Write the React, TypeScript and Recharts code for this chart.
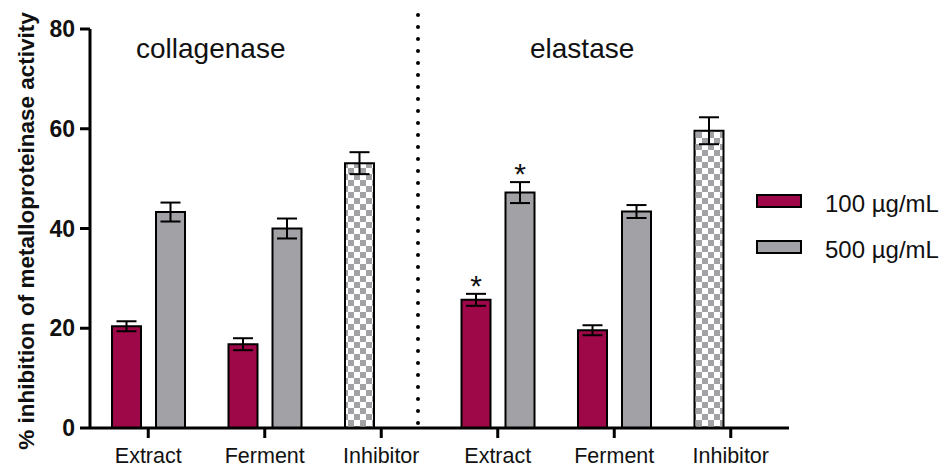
import { BarChart, Bar, XAxis, YAxis, Cell, ErrorBar, LabelList } from 'recharts'

const categories = ['Extract', 'Ferment', 'Inhibitor', 'Extract', 'Ferment', 'Inhibitor']
const conc100 = [20.4, 16.8, null, 25.7, 19.6, null]
const conc500 = [43.3, 40.0, null, 47.2, 43.4, null]
const inhibitor = [null, null, 53.1, null, null, 59.6]
const err100 = [1.0, 1.2, null, 1.2, 1.0, null]
const err500 = [1.9, 2.0, null, 2.1, 1.3, null]
const errInhibitor = [null, null, 2.2, null, null, 2.7]
const star100 = [false, false, false, true, false, false]
const star500 = [false, false, false, true, false, false]
const yTicks = [0, 20, 40, 60, 80]
const seriesNames = ['100 µg/mL', '500 µg/mL']

const MAROON = '#9e0848'
const GRAY = '#a2a2a6'
const FONT = '"Liberation Sans", Arial, sans-serif'

const data = categories.map((label, i) => ({
  label,
  low: conc100[i] ?? inhibitor[i],
  lowErr: err100[i] ?? errInhibitor[i],
  lowStar: star100[i] ? [conc100[i], err100[i]] : null,
  high: conc500[i],
  highErr: err500[i],
  highStar: star500[i] ? [conc500[i], err500[i]] : null,
  isInhibitor: inhibitor[i] != null,
}))

// value is [barValue, error]; puts the asterisk just above the error bar
function StarLabel(props: any) {
  const { x, y, width, height, value } = props
  if (!Array.isArray(value)) return null
  const [v, err] = value
  const errPx = err * (height / v)
  return (
    <text x={x + width / 2} y={y - errPx + 2} textAnchor="middle" fontSize={30} fontFamily={FONT} fill="#111">
      *
    </text>
  )
}

export default function App() {
  return (
    <div style={{ position: 'absolute', left: 0, top: 0, width: 952, height: 468, background: '#fff', fontFamily: FONT }}>
      <BarChart
        width={952}
        height={468}
        data={data}
        barSize={29}
        barGap={15}
        margin={{ top: 29, right: 163, bottom: 0, left: 30 }}
      >
        <defs>
          <pattern id="checker" width={12} height={12} patternUnits="userSpaceOnUse">
            <rect width={12} height={12} fill="#fff" />
            <rect width={6} height={6} fill={GRAY} />
            <rect x={6} y={6} width={6} height={6} fill={GRAY} />
          </pattern>
        </defs>
        <XAxis
          dataKey="label"
          height={40}
          tickSize={10}
          tickMargin={10}
          axisLine={{ stroke: '#000', strokeWidth: 3 }}
          tickLine={{ stroke: '#000', strokeWidth: 3 }}
          tick={{ fill: '#111', fontSize: 21.5, fontFamily: FONT }}
        />
        <YAxis
          width={60}
          domain={[0, 80]}
          ticks={yTicks}
          tickSize={10}
          tickMargin={5}
          axisLine={{ stroke: '#000', strokeWidth: 3 }}
          tickLine={{ stroke: '#000', strokeWidth: 3 }}
          tick={{ fill: '#111', fontSize: 23, fontWeight: 'bold', fontFamily: FONT }}
        />
        <Bar dataKey="low" name={seriesNames[0]} fill={MAROON} stroke="#000" strokeWidth={2} isAnimationActive={false}>
          {data.map((d, i) => (
            <Cell key={i} fill={d.isInhibitor ? 'url(#checker)' : MAROON} />
          ))}
          <ErrorBar dataKey="lowErr" width={10} stroke="#000" strokeWidth={2} direction="y" />
          <LabelList dataKey="lowStar" content={<StarLabel />} />
        </Bar>
        <Bar dataKey="high" name={seriesNames[1]} fill={GRAY} stroke="#000" strokeWidth={2} isAnimationActive={false}>
          <ErrorBar dataKey="highErr" width={10} stroke="#000" strokeWidth={2} direction="y" />
          <LabelList dataKey="highStar" content={<StarLabel />} />
        </Bar>
      </BarChart>
      <svg width={952} height={468} style={{ position: 'absolute', left: 0, top: 0, pointerEvents: 'none' }}>
        <line x1={418} y1={15} x2={418} y2={424} stroke="#000" strokeWidth={4} strokeDasharray="0 12" strokeLinecap="round" />
        <text x={136} y={58} fontSize={28} fontFamily={FONT} fill="#111">collagenase</text>
        <text x={530} y={58} fontSize={28} fontFamily={FONT} fill="#111">elastase</text>
        <text
          transform="translate(34,231) rotate(-90)"
          textAnchor="middle"
          fontSize={22.5}
          fontWeight="bold"
          fontFamily={FONT}
          fill="#111"
        >
          % inhibition of metalloproteinase activity
        </text>
        {seriesNames.map((name, i) => (
          <g key={name}>
            <rect x={757} y={195 + i * 46} width={44} height={12} fill={i === 0 ? MAROON : GRAY} stroke="#000" strokeWidth={2} />
            <text x={825} y={212 + i * 46} fontSize={24} fontFamily={FONT} fill="#111">{name}</text>
          </g>
        ))}
      </svg>
    </div>
  )
}
